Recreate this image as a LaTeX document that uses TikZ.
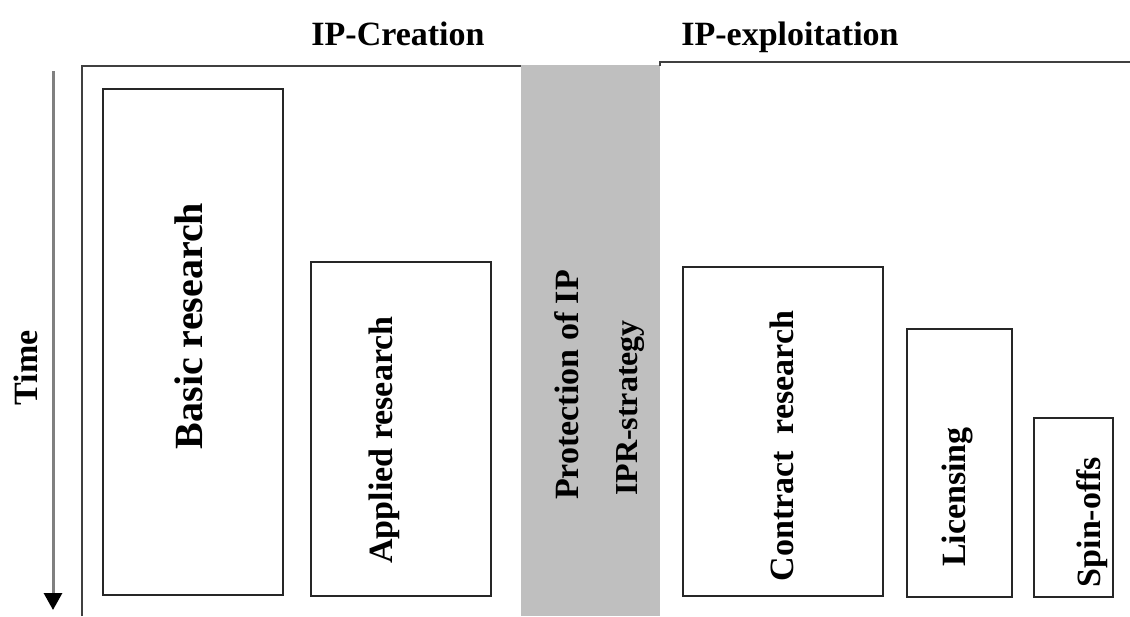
\documentclass[tikz,border=0pt]{standalone}
\usepackage{fontspec}
\setmainfont{Liberation Serif}
\usetikzlibrary{
  arrows.meta
}
\tikzset{
  phase/.style={font=\bfseries\fontsize{17}{20}\selectfont, inner sep=0pt, anchor=base},
  vlbl/.style={font=\bfseries\fontsize{17}{20}\selectfont, rotate=90, inner sep=0pt, anchor=base},
  stage/.style={draw=black!85, line width=0.6pt},
  frame/.style={draw=black!75, line width=0.8pt}
}

\begin{document}
\begin{tikzpicture}[x=0.5pt, y=-0.5pt]
  \def\Ytop{66};
  \def\Ybot{616};
  \def\Gl{521};
  \def\Gr{660};
  \def\Sb{596};
  \useasboundingbox (0,0) rectangle (1130,616);
        % protection band and frame
        \fill[black!25] (\Gl, 65) rectangle (\Gr, \Ybot);
        \draw[frame] (82, \Ybot) -- (82, \Ytop) -- (\Gl, \Ytop);
        \draw[frame] (\Gr, \Ytop) -- (\Gr, 62) -- (1130, 62);
        % stages
        \draw[stage] (103, 89) rectangle (283, 595);
        \draw[stage] (311, 262) rectangle (491, \Sb);
        \draw[stage] (683, 267) rectangle (883, \Sb);
        \draw[stage] (907, 329) rectangle (1012, 597);
        \draw[stage] (1034, 418) rectangle (1113, 597);
        \node[phase] (creation) at (398, 45) {IP-Creation};
        \node[phase] (exploit) at (790, 45) {IP-exploitation};
        \node[vlbl, font=\bfseries\fontsize{20}{24}\selectfont] (basic) at (202, 326) {Basic research};
        \node[vlbl] (applied) at (392, 440) {Applied research};
        \node[vlbl] (protect) at (578, 385) {Protection of IP};
        \node[vlbl, font=\bfseries\fontsize{16}{19}\selectfont] (iprs) at (637, 408) {IPR-strategy};
        \node[vlbl] (contract) at (793, 446) {Contract\ \ research};
        \node[vlbl] (licence) at (965, 497) {Licensing};
        \node[vlbl] (spinoff) at (1100, 522) {Spin-offs};
        % time axis
        \node[vlbl] (time) at (37, 368) {Time};
        \coordinate (tstart) at (53, 71);
        \coordinate (tend) at (53, 610);
	\draw[black!50, line width=1.5pt, -{Triangle[width=9pt, length=8.5pt, color=black]}] (tstart) -- (tend);
\end{tikzpicture}
\end{document}
